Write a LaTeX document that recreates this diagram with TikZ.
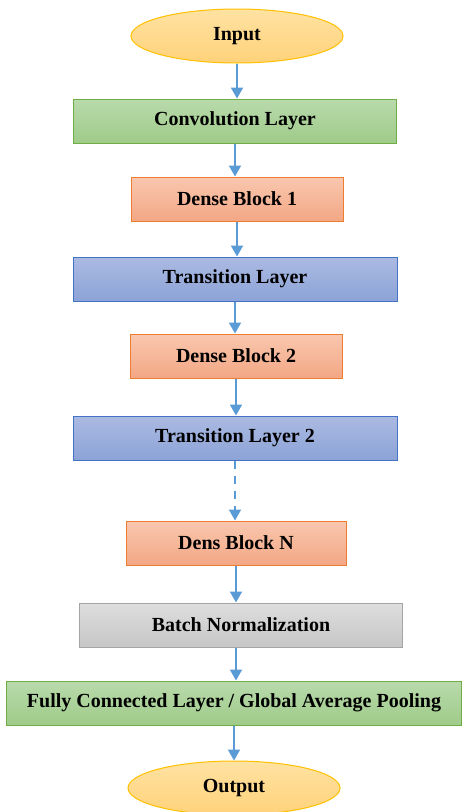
\documentclass[tikz,border=0pt]{standalone}
\usepackage{fontspec}
\setmainfont{Liberation Serif}
\usetikzlibrary{positioning, arrows.meta, shapes.geometric}
\definecolor{arrowblue}{HTML}{5B9BD5}
\definecolor{goldline}{HTML}{FFC000}
\definecolor{goldtop}{HTML}{FFE2A2}
\definecolor{goldbot}{HTML}{FFD27A}
\definecolor{greenline}{HTML}{70AD47}
\definecolor{greentop}{HTML}{B9DAAC}
\definecolor{greenbot}{HTML}{9FCB89}
\definecolor{orangeline}{HTML}{ED7D31}
\definecolor{orangetop}{HTML}{F9C7AF}
\definecolor{orangebot}{HTML}{F3A784}
\definecolor{blueline}{HTML}{4472C4}
\definecolor{bluetop}{HTML}{ABBAE2}
\definecolor{bluebot}{HTML}{8CA3D7}
\definecolor{grayline}{HTML}{A5A5A5}
\definecolor{graytop}{HTML}{DEDEDE}
\definecolor{graybot}{HTML}{C6C6C6}
\tikzset{
  base/.style={
    draw,
    line width=1pt,
    minimum height=44pt,
    align=center,
    font=\fontsize{20}{22}\selectfont\bfseries
  },
  terminal/.style={
    base,
    ellipse,
    minimum width=212pt,
    minimum height=54pt,
    draw=goldline,
    top color=goldtop,
    bottom color=goldbot
  },
  greenbox/.style={
    base,
    rectangle,
    draw=greenline,
    top color=greentop,
    bottom color=greenbot
  },
  densebox/.style={
    base,
    rectangle,
    minimum width=212pt,
    draw=orangeline,
    top color=orangetop,
    bottom color=orangebot
  },
  transbox/.style={
    base,
    rectangle,
    minimum width=324pt,
    draw=blueline,
    top color=bluetop,
    bottom color=bluebot
  },
  graybox/.style={
    base,
    rectangle,
    minimum width=323pt,
    draw=grayline,
    top color=graytop,
    bottom color=graybot
  },
  flow/.style={
    draw=arrowblue,
    line width=2pt,
    -{Triangle[width=12pt,length=11pt]}
  }
}

\begin{document}
\begin{tikzpicture}[x=1pt, y=1pt]
        \useasboundingbox (0,0) rectangle (462,-812);
        \node[terminal] (input) at (237,-36) {Input};
        \node[greenbox, minimum width=323pt, below=35pt of input, xshift=-2pt] (conv) {Convolution Layer};
        \node[densebox, below=33pt of conv, xshift=2pt] (db1) {Dense Block 1};
        \node[transbox, below=35pt of db1, xshift=-2pt] (tl1) {Transition Layer};
        \node[densebox, below=32pt of tl1, xshift=1pt] (db2) {Dense Block 2};
        \node[transbox, below=37pt of db2, xshift=-1pt] (tl2) {Transition Layer 2};
        \node[densebox, minimum width=220pt, below=60pt of tl2, xshift=1pt] (dbn) {Dens Block N};
        \node[graybox, below=37pt of dbn, xshift=5pt] (bn) {Batch Normalization};
        \node[greenbox, minimum width=455pt, below=33pt of bn, xshift=-7pt] (fc) {Fully Connected Layer / Global Average Pooling};
        \node[terminal, below=35pt of fc] (output) {Output};

        \draw[flow] (input) -- (input |- conv.north);
        \draw[flow] (conv) -- (conv |- db1.north);
        \draw[flow] (db1) -- (db1 |- tl1.north);
        \draw[flow] (tl1) -- (tl1 |- db2.north);
        \draw[flow] (db2) -- (db2 |- tl2.north);
        \draw[flow, dashed, dash pattern=on 8pt off 7pt] (tl2) -- (tl2 |- dbn.north);
        \draw[flow] (dbn) -- (dbn |- bn.north);
        \draw[flow] (bn.south -| dbn) -- (dbn |- fc.north);
        \draw[flow] (fc) -- (fc |- output.north);
      \end{tikzpicture}
\end{document}
